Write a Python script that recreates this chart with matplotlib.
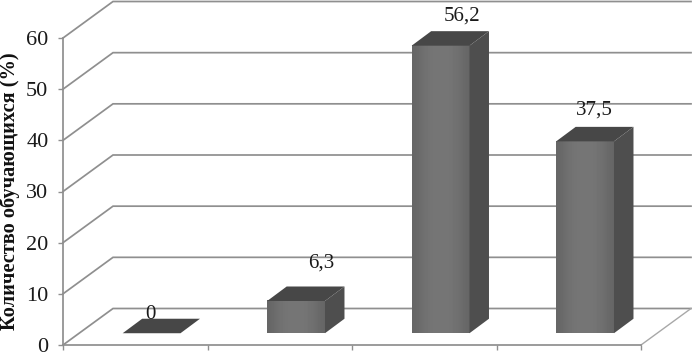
import numpy as np
import matplotlib
matplotlib.use('Agg')
import matplotlib.pyplot as plt
from matplotlib.patches import Polygon

values = [0, 6.3, 56.2, 37.5]
value_labels = ['0', '6,3', '56,2', '37,5']
y_ticks = [0, 10, 20, 30, 40, 50, 60]
y_title = 'Количество обучающихся (%)'

# pixel offsets of the value labels from the bar top
label_dx = [-1, 25, 21, 9]
label_dy = [19, 38, 30, 31]

plt.rcParams['font.family'] = ['Liberation Serif', 'DejaVu Serif']

W, H = 694, 354
fig = plt.figure(figsize=(W / 100, H / 100), dpi=100)
ax = fig.add_axes([63 / W, (H - 345) / H, (641 - 63) / W, (345 - 38) / H])
ax.set_xlim(0, len(values))
ax.set_ylim(0, 60)

# 3d look: wall shift and bar depth in data units
wall_dx = 50 / 144.5
wall_dy = 36.5 / 5.117
bar_w = 0.40
bar_dx = 0.135
bar_dy = 14.5 / 5.117
floor_dx = 0.113
floor_dy = 2.3

line_col = '#8f8f8f'
for v in y_ticks:
    ax.plot([0, wall_dx, len(values) + wall_dx], [v, v + wall_dy, v + wall_dy],
            color=line_col, lw=1.25, clip_on=False, zorder=1, solid_joinstyle='miter')
ax.plot([len(values), len(values) + wall_dx], [0, wall_dy], color='#a8a8a8', lw=1.0,
        clip_on=False, zorder=1)

# horizontal shading of the front face
shade = np.array([[0.40, 0.43, 0.45, 0.46, 0.46, 0.46, 0.45, 0.43, 0.40]])

for i, v in enumerate(values):
    x0 = i + 0.5 + floor_dx - bar_w / 2
    x1 = x0 + bar_w
    b = floor_dy
    t = floor_dy + v
    if v > 0:
        ax.imshow(shade, extent=[x0, x1, b, t], aspect='auto', cmap='gray', vmin=0, vmax=1,
                  interpolation='bicubic', zorder=3, clip_on=False)
    top = [(x0, t), (x0 + bar_dx, t + bar_dy), (x1 + bar_dx, t + bar_dy), (x1, t)]
    side = [(x1, b), (x1 + bar_dx, b + bar_dy), (x1 + bar_dx, t + bar_dy), (x1, t)]
    ax.add_patch(Polygon(top, closed=True, fc='#474747', ec='none', zorder=3, clip_on=False))
    if v > 0:
        ax.add_patch(Polygon(side, closed=True, fc='#4e4e4e', ec='none', zorder=3, clip_on=False))
    ax.annotate(value_labels[i], xy=(i + 0.5 + floor_dx, t),
                xytext=(label_dx[i] * 0.72, label_dy[i] * 0.72),
                textcoords='offset points', ha='center', va='center', fontsize=15,
                color='#1a1a1a', zorder=5, annotation_clip=False)

ax.set_xlim(0, len(values))
ax.set_ylim(0, 60)
ax.set_xticks(range(len(values) + 1))
ax.set_xticklabels([])
ax.set_yticks(y_ticks)
ax.tick_params(axis='y', length=3.5, width=1, color=line_col, labelsize=16, pad=7,
               labelcolor='#1a1a1a')
ax.tick_params(axis='x', length=3.5, width=1, color=line_col)
for s in ['top', 'right']:
    ax.spines[s].set_visible(False)
for s in ['left', 'bottom']:
    ax.spines[s].set_color(line_col)
    ax.spines[s].set_linewidth(1.25)
ax.patch.set_visible(False)

fig.text(10 / W, (H - 191) / H, y_title, rotation=90, ha='center', va='center',
         fontsize=14.7, fontweight='bold', color='#111111')

fig.savefig('out.png', dpi=100)
